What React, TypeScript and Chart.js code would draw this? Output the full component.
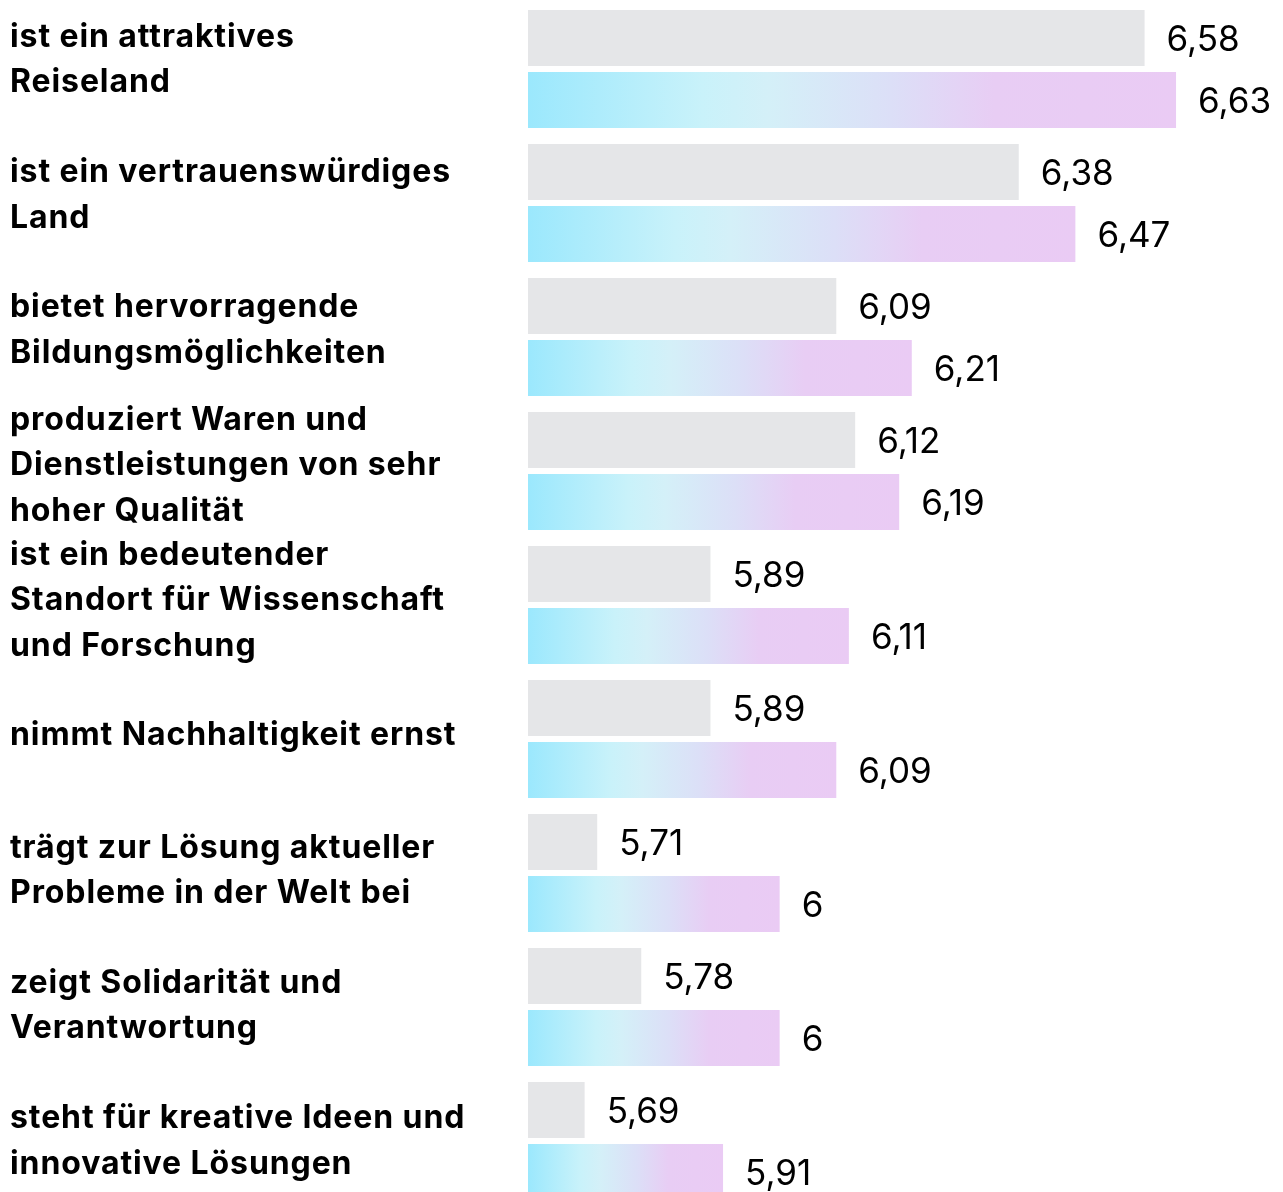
import React, { useEffect, useRef } from "react";
import { Chart, registerables } from "chart.js";

Chart.register(...registerables);

const categories: string[][] = [
  ["ist ein attraktives", "Reiseland"],
  ["ist ein vertrauenswürdiges", "Land"],
  ["bietet hervorragende", "Bildungsmöglichkeiten"],
  ["produziert Waren und", "Dienstleistungen von sehr", "hoher Qualität"],
  ["ist ein bedeutender", "Standort für Wissenschaft", "und Forschung"],
  ["nimmt Nachhaltigkeit ernst"],
  ["trägt zur Lösung aktueller", "Probleme in der Welt bei"],
  ["zeigt Solidarität und", "Verantwortung"],
  ["steht für kreative Ideen und", "innovative Lösungen"],
];

const seriesGrey: number[] = [6.58, 6.38, 6.09, 6.12, 5.89, 5.89, 5.71, 5.78, 5.69];
const seriesColor: number[] = [6.63, 6.47, 6.21, 6.19, 6.11, 6.09, 6.0, 6.0, 5.91];

const X_MIN = 5.6;
const X_MAX = 6.8;

const fmt = (v: number) => {
  const s = (Math.round(v * 100) / 100).toString();
  return s.replace(".", ",");
};

const gradientFill = (ctx: any) => {
  const chart = ctx.chart;
  const area = chart.chartArea;
  const scale = chart.scales?.x;
  if (!area || !scale || ctx.raw == null) return "#d8e6f8";
  const x0 = scale.getPixelForValue(X_MIN);
  const x1 = scale.getPixelForValue(ctx.raw);
  if (!isFinite(x0) || !isFinite(x1) || x1 <= x0) return "#9ce8fd";
  const g = chart.ctx.createLinearGradient(x0, 0, x1, 0);
  g.addColorStop(0, "#9be8fd");
  g.addColorStop(0.27, "#c9f2fa");
  g.addColorStop(0.37, "#d4f0f8");
  g.addColorStop(0.56, "#dcdff7");
  g.addColorStop(0.72, "#e8cdf4");
  g.addColorStop(1, "#eacbf4");
  return g;
};

const labelsPlugin = {
  id: "customLabels",
  afterDatasetsDraw(chart: any) {
    const { ctx } = chart;
    const yScale = chart.scales.y;
    ctx.save();
    // category labels
    ctx.fillStyle = "#000";
    ctx.textAlign = "left";
    ctx.textBaseline = "middle";
    ctx.font = "bold 32px Inter";
    (ctx as any).letterSpacing = "0.9px";
    const lh = 45.5;
    categories.forEach((lines, i) => {
      const cy = yScale.getPixelForValue(i) - 9 + i * 1.15;
      const start = cy - ((lines.length - 1) * lh) / 2;
      lines.forEach((ln, j) => {
        ctx.fillText(ln, 10, start + j * lh);
      });
    });
    // value labels
    (ctx as any).letterSpacing = "0px";
    ctx.font = "35px Inter";
    chart.data.datasets.forEach((ds: any, di: number) => {
      const meta = chart.getDatasetMeta(di);
      meta.data.forEach((bar: any, i: number) => {
        const v = ds.data[i];
        ctx.fillText(fmt(v), bar.x + 22, bar.y + 2);
      });
    });
    ctx.restore();
  },
};

export default function App() {
  const ref = useRef<HTMLCanvasElement | null>(null);
  useEffect(() => {
    if (!ref.current) return;
    const chart = new Chart(ref.current, {
      type: "bar",
      data: {
        labels: categories.map((c) => c.join(" ")),
        datasets: [
          {
            label: "A",
            data: seriesGrey,
            backgroundColor: "#e5e6e8",
            borderWidth: 0,
            base: X_MIN,
          } as any,
          {
            label: "B",
            data: seriesColor,
            backgroundColor: gradientFill,
            borderWidth: 0,
            base: X_MIN,
          } as any,
        ],
      },
      options: {
        indexAxis: "y",
        animation: false,
        responsive: false,
        maintainAspectRatio: false,
        layout: { padding: { left: 528, right: 0, top: 2, bottom: 2 } },
        datasets: {
          bar: { categoryPercentage: 0.9254, barPercentage: 0.903 },
        },
        scales: {
          x: { display: false, min: X_MIN, max: X_MAX },
          y: { display: false, offset: true },
        },
        plugins: {
          legend: { display: false },
          tooltip: { enabled: false },
        },
      },
      plugins: [labelsPlugin],
    });
    return () => chart.destroy();
  }, []);
  return (
    <div style={{ position: "absolute", left: 0, top: 0, width: 1283, height: 1210, background: "#fff" }}>
      <canvas ref={ref} width={1283} height={1210} style={{ width: 1283, height: 1210, display: "block" }} />
    </div>
  );
}
